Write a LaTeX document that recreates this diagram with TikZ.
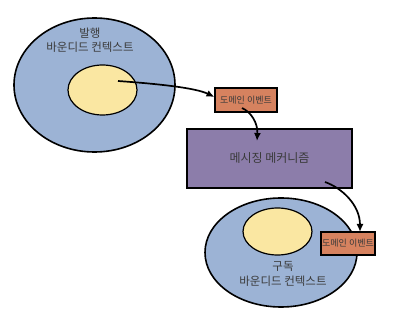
\documentclass[tikz,border=0pt]{standalone}
\usepackage{fontspec}
\setmainfont{Noto Sans CJK KR}
\usetikzlibrary{shapes.geometric,arrows.meta}
\definecolor{ctxblue}{HTML}{9CB3D5}
\definecolor{coreyellow}{HTML}{FAE7A2}
\definecolor{evorange}{HTML}{D6825F}
\definecolor{msgpurple}{HTML}{8C7DAA}
\definecolor{txtgray}{HTML}{3A3A3A}
\tikzset{
  context/.style={ellipse, draw=black, line width=1.6pt, fill=ctxblue, inner sep=0pt},
  core/.style={ellipse, draw=black, line width=1.2pt, fill=coreyellow, inner sep=0pt},
  eventbox/.style={rectangle, draw=black, line width=1.1pt, fill=evorange, inner sep=0pt,
    text=txtgray, font=\fontsize{9}{10}\selectfont},
  msgbox/.style={rectangle, draw=black, line width=1.1pt, fill=msgpurple, inner sep=0pt,
    text=txtgray, font=\fontsize{12}{14}\selectfont},
  ctxlabel/.style={text=txtgray, align=center, font=\fontsize{11.5}{14.5}\selectfont},
  flow/.style={line width=1.7pt, -{Latex[length=8pt,width=7pt]}},
}
\begin{document}
\begin{tikzpicture}[x=1pt,y=-1pt]
\useasboundingbox[fill=white] (0,0) rectangle (400,321);

% publishing bounded context
\node[context, minimum width=161pt, minimum height=134pt] (pub) at (94.5,85) {};
\node[core, minimum width=69pt, minimum height=50pt] (pubcore) at (102.5,90) {};
\node[ctxlabel] (publabel) at (90,40) {발행\\바운디드 컨텍스트};

% subscribing bounded context
\node[context, minimum width=152pt, minimum height=109pt] (sub) at (281,252.5) {};
\node[core, minimum width=69pt, minimum height=47pt] (subcore) at (277.5,231.5) {};
\node[ctxlabel] (sublabel) at (283,274) {구독\\바운디드 컨텍스트};

% messaging in between
\node[msgbox, minimum width=165pt, minimum height=59pt] (msg) at (269.5,158.5) {메시징 메커니즘};

% domain events
\node[eventbox, minimum width=62pt, minimum height=24pt] (ev1) at (246,100) {도메인 이벤트};
\node[eventbox, minimum width=54pt, minimum height=23pt] (ev2) at (348,243.5) {도메인 이벤트};

% flow of the event
\coordinate (s1) at (118,81);
\coordinate (s2) at (242,108);
\coordinate (e2) at (257,141);
\coordinate (s3) at (325,182);
\coordinate (e3) at (360,232);

\draw[flow] (s1) .. controls (160,84) and (196,88) .. (ev1.west |- 0,97);
\draw[flow] (s2) .. controls (251,112) and (258,123) .. (e2);
\draw[flow] (s3) .. controls (342,188) and (360,205) .. (e3);
\end{tikzpicture}
\end{document}
